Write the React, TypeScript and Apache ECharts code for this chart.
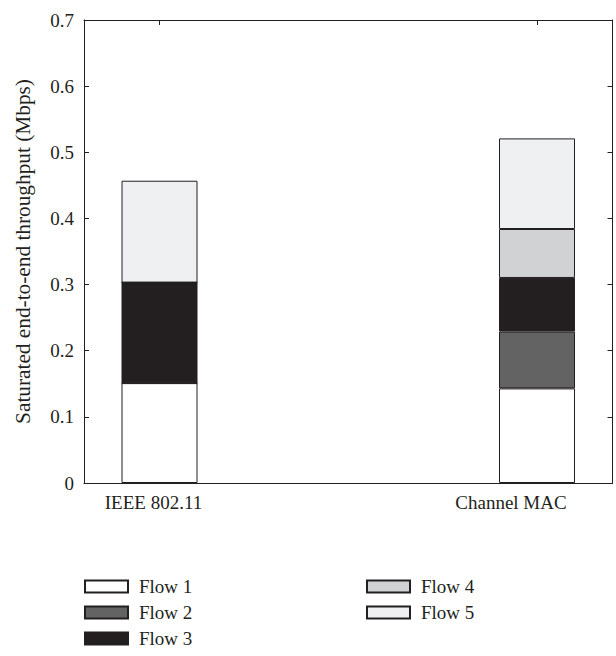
import React, { useEffect, useRef } from "react";
import * as echarts from "echarts";

const categories = ["IEEE 802.11", "Channel MAC"];
const categoryPositions = [1, 2];
const labelPositions = [0.984, 1.931];
const flowNames = ["Flow 1", "Flow 2", "Flow 3", "Flow 4", "Flow 5"];
const flow1 = [0.151, 0.143];
const flow2 = [0, 0.086];
const flow3 = [0.152, 0.081];
const flow4 = [0, 0.074];
const flow5 = [0.154, 0.137];
const flowColors = ["#ffffff", "#636363", "#231f20", "#d1d2d4", "#eff0f2"];
const yTicks = [0, 0.1, 0.2, 0.3, 0.4, 0.5, 0.6, 0.7];

const INK = "#231f20";
const FONT = "Liberation Serif";

export default function App() {
  const ref = useRef<HTMLDivElement>(null);
  useEffect(() => {
    if (!ref.current) return;
    const chart = echarts.init(ref.current, null, { renderer: "svg" });
    const flows = [flow1, flow2, flow3, flow4, flow5];
    const series = flows.map((vals, i) => ({
      name: flowNames[i],
      type: "bar",
      stack: "total",
      barWidth: 76,
      xAxisIndex: 0,
      yAxisIndex: 0,
      encode: { x: 1, y: 0 },
      data: vals.map((v, j) => [v, categoryPositions[j]]),
      itemStyle: { color: flowColors[i], borderColor: INK, borderWidth: 1 },
      emphasis: { disabled: true },
    }));
    const xCommon = {
      type: "value",
      min: 0.8,
      max: 2.2,
      splitLine: { show: false },
      axisLine: { show: true, onZero: false, lineStyle: { color: INK, width: 1 } },
      axisTick: { show: true, inside: true, length: 5, customValues: categoryPositions, lineStyle: { color: INK } },
    };
    const yCommon = {
      type: "value",
      min: yTicks[0],
      max: yTicks[yTicks.length - 1],
      interval: 0.1,
      splitLine: { show: false },
      axisLine: { show: true, lineStyle: { color: INK, width: 1 } },
      axisTick: { show: true, inside: true, length: 5, lineStyle: { color: INK } },
    };
    const legendCommon = {
      orient: "vertical",
      top: 577,
      padding: 0,
      itemWidth: 43,
      itemHeight: 12,
      itemGap: 7,
      icon: "rect",
      selectedMode: false,
      textStyle: { color: INK, fontFamily: FONT, fontSize: 19, padding: [0, 0, 0, 6] },
    };
    chart.setOption({
      animation: false,
      grid: { left: 84, right: 3.5, top: 20, bottom: 173, containLabel: false },
      xAxis: [
        {
          ...xCommon,
          position: "bottom",
          axisLabel: {
            show: true,
            customValues: labelPositions,
            margin: 10,
            color: INK,
            fontFamily: FONT,
            fontSize: 19,
            formatter: (v: number) => {
              let best = 0;
              labelPositions.forEach((p, i) => {
                if (Math.abs(p - v) < Math.abs(labelPositions[best] - v)) best = i;
              });
              return categories[best];
            },
          },
        },
        { ...xCommon, position: "top", axisLabel: { show: false } },
      ],
      yAxis: [
        {
          ...yCommon,
          position: "left",
          name: "Saturated end-to-end throughput (Mbps)",
          nameLocation: "middle",
          nameGap: 51,
          nameTextStyle: { color: INK, fontFamily: FONT, fontSize: 21.3 },
          axisLabel: {
            show: true,
            margin: 10,
            color: INK,
            fontFamily: FONT,
            fontSize: 19,
            formatter: (v: number) => String(Math.round(v * 10) / 10),
          },
        },
        { ...yCommon, position: "right", axisLabel: { show: false } },
      ],
      legend: [
        { ...legendCommon, data: flowNames.slice(0, 3), left: 84 },
        { ...legendCommon, data: flowNames.slice(3), left: 366 },
      ],
      series,
    });
    return () => chart.dispose();
  }, []);
  return (
    <div
      ref={ref}
      style={{ position: "fixed", left: 0, top: 0, width: 616, height: 656, background: "#fff" }}
    />
  );
}
